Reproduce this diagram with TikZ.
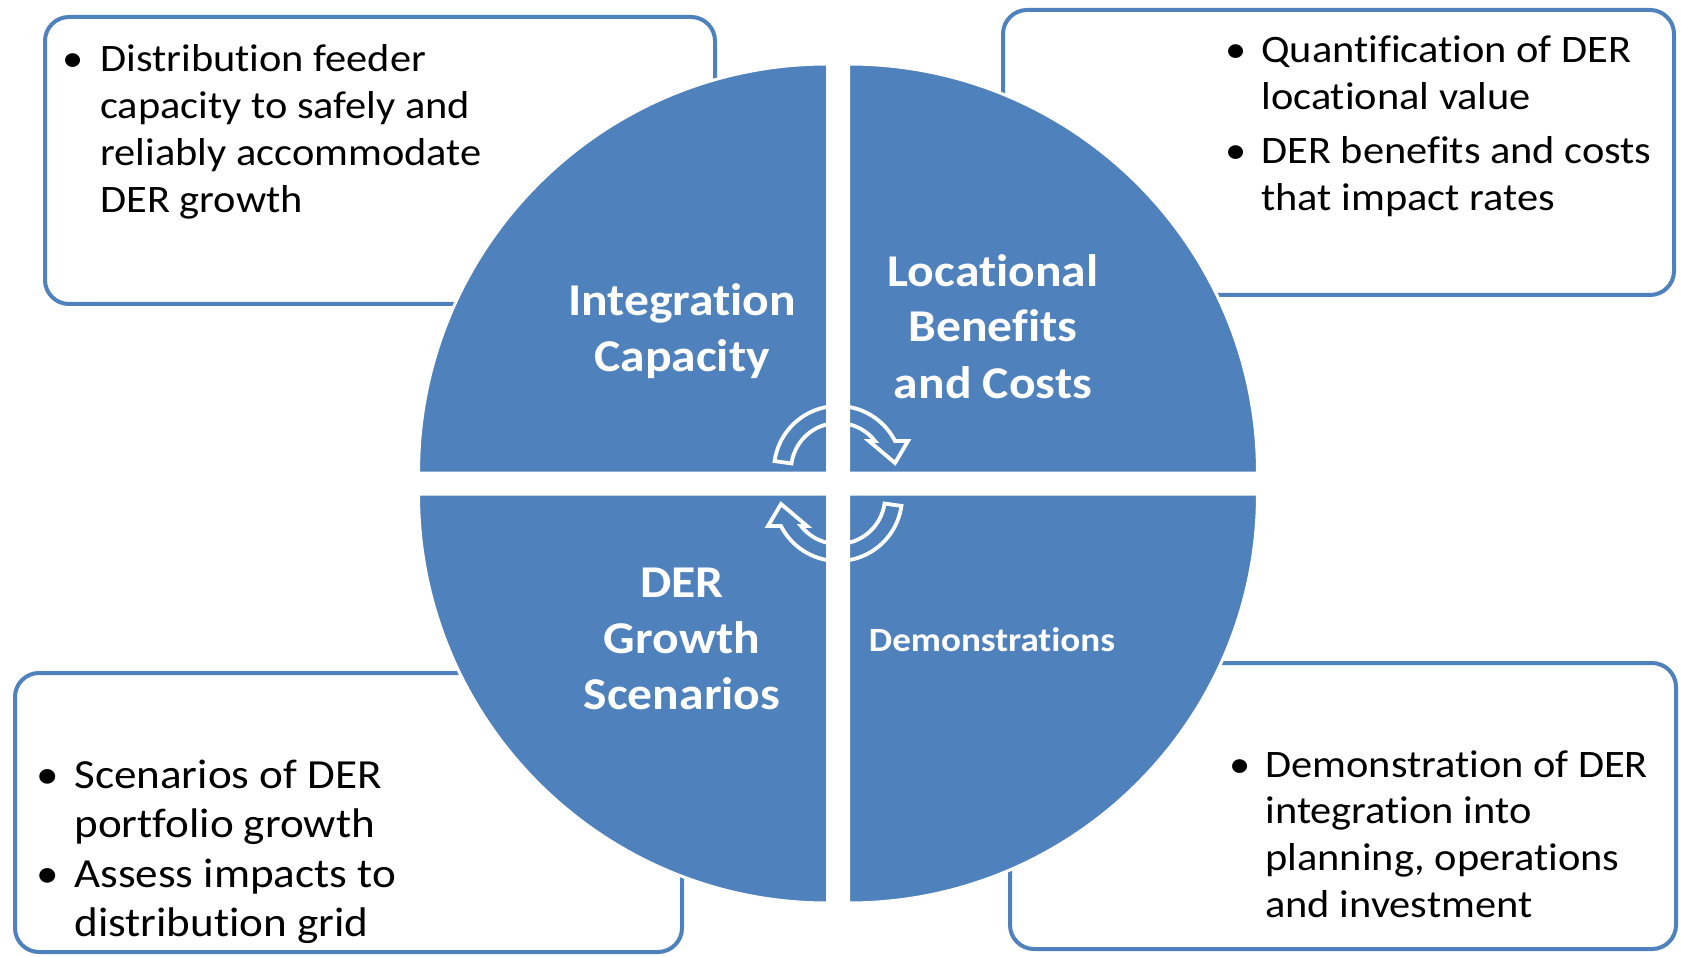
\documentclass[tikz,border=0pt]{standalone}
\usepackage{fontspec}
\setmainfont{Carlito}[FakeStretch=1.09, Ligatures=NoCommon, RawFeature={-liga;-clig;-dlig}]
\definecolor{qblue}{HTML}{4F81BD}
\tikzset{
  infobox/.style={draw=qblue, line width=2pt, fill=white, rounded corners=12pt},
  quad/.style={fill=qblue, draw=white, line width=1.5pt},
  cyclearrow/.style={draw=white, line width=1.9pt, line join=miter},
  bodytext/.style={anchor=base west, inner sep=0pt, text=black, font=\fontsize{19.45pt}{23.4pt}\selectfont},
  bodytextL/.style={anchor=base west, inner sep=0pt, text=black, font=\fontsize{20.7pt}{24.5pt}\selectfont},
  qlabel/.style={anchor=base, inner sep=0pt, text=white, font=\bfseries\fontsize{22.75pt}{28pt}\selectfont},
  qlabelS/.style={anchor=base, inner sep=0pt, text=white, font=\bfseries\fontsize{17pt}{20pt}\selectfont},
}
\newcommand\bitem[2]{\makebox[#1][c]{\textbullet}\begin{tabular}[t]{@{}l@{}}#2\end{tabular}}
\newcommand\clab[1]{\begin{tabular}[t]{@{}c@{}}#1\end{tabular}}
\begin{document}
\begin{tikzpicture}[x=0.5pt,y=-0.5pt]
\useasboundingbox (0,0) rectangle (1681,957);
\fill[white] (0,0) rectangle (1681,957);
% boxes
\draw[infobox] (45,17) rectangle (715,304);
\draw[infobox] (1003,10) rectangle (1674,295);
\draw[infobox] (15,673) rectangle (682,952);
\draw[infobox] (1010,663) rectangle (1676,949);
% quadrants
\path[quad] (827.5,473) -- ++(180:409) arc[start angle=180, end angle=270, radius=409] -- cycle;
\path[quad] (848.5,473) -- ++(270:409) arc[start angle=270, end angle=360, radius=409] -- cycle;
\path[quad] (848.5,494) -- ++(0:409) arc[start angle=0, end angle=90, radius=409] -- cycle;
\path[quad] (827.5,494) -- ++(90:409) arc[start angle=90, end angle=180, radius=409] -- cycle;
% labels
\node[qlabel] (ic) at (682,315) {\clab{Integration\\Capacity}};
\node[qlabel] (lbc) at (993,286) {\clab{Locational\\Benefits\\and Costs}};
\node[qlabel] (dgs) at (682,597) {\clab{DER\\Growth\\Scenarios}};
\node[qlabelS] (demo) at (992,651) {Demonstrations};
% cycle arrows
\draw[cyclearrow] (774.6,461.1) arc[start angle=188, end angle=333.1, radius=64]
  -- (908,441) -- (895,463) -- (869,441) -- (875,441)
  arc[start angle=321.9, end angle=188, radius=47] -- cycle;
\draw[cyclearrow] (901.4,505.9) arc[start angle=8, end angle=153.1, radius=64]
  -- (768,526) -- (781,504) -- (807,526) -- (801,526)
  arc[start angle=141.9, end angle=8, radius=47] -- cycle;
% texts
\node[bodytext] (tl) at (46,72) {\bitem{27pt}{Distribution feeder\\capacity to safely and\\reliably accommodate\\DER growth}};
\node[bodytext] (tr1) at (1211,63) {\bitem{25pt}{Quantification of DER\\locational value}};
\node[bodytext] (tr2) at (1211,164) {\bitem{25pt}{DER benefits and costs\\that impact rates}};
\node[bodytextL] (bl1) at (20,788) {\bitem{27pt}{Scenarios of DER\\portfolio growth}};
\node[bodytextL] (bl2) at (20,887) {\bitem{27pt}{Assess impacts to\\distribution grid}};
\node[bodytext] (br) at (1215,777) {\bitem{25pt}{Demonstration of DER\\integration into\\planning, operations\\and investment}};
\end{tikzpicture}
\end{document}
